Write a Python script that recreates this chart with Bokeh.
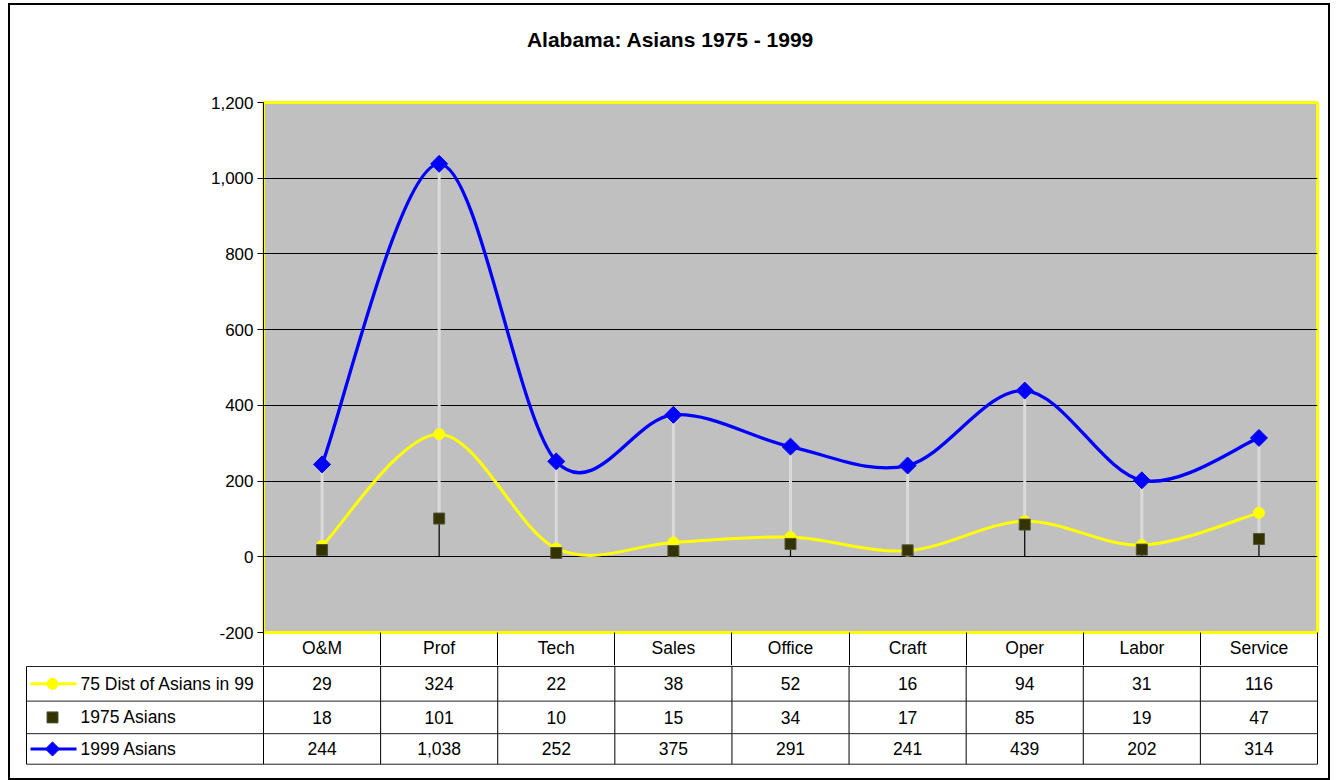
import numpy as np
from bokeh.plotting import figure
from bokeh.models import FixedTicker, NumeralTickFormatter, Range1d, LinearAxis
from bokeh.embed import file_html
from bokeh.resources import INLINE
from bokeh.core.properties import value

# ---------------- data ----------------
cats = ["O&M", "Prof", "Tech", "Sales", "Office", "Craft", "Oper", "Labor", "Service"]
dist75 = [29, 324, 22, 38, 52, 16, 94, 31, 116]
asians1975 = [18, 101, 10, 15, 34, 17, 85, 19, 47]
asians1999 = [244, 1038, 252, 375, 291, 241, 439, 202, 314]
series_names = ["75 Dist of Asians in 99", "1975 Asians", "1999 Asians"]
y_ticks = [-200, 0, 200, 400, 600, 800, 1000, 1200]
title_text = "Alabama: Asians 1975 - 1999"

FONT = "Liberation Sans"
YELLOW = "#FFFF00"
BLUE = "#0000FF"
OLIVE = "#333300"
BORDER = "2px solid black"

n = len(cats)
xs = np.arange(n) + 0.5


def smooth(ys):
    """Catmull-Rom style bezier segments (Excel 'smoothed line')."""
    P = np.column_stack([xs, np.asarray(ys, float)])
    Pe = np.vstack([P[0], P, P[-1]])
    c0 = P[:-1] + (Pe[2:-1] - Pe[0:-3]) / 6.0
    c1 = P[1:] - (Pe[3:] - Pe[1:-2]) / 6.0
    return dict(x0=P[:-1, 0], y0=P[:-1, 1], x1=P[1:, 0], y1=P[1:, 1],
                cx0=c0[:, 0], cy0=c0[:, 1], cx1=c1[:, 0], cy1=c1[:, 1])


def blank(fig):
    fig.grid.visible = False
    fig.outline_line_color = None
    fig.background_fill_color = "white"
    fig.border_fill_color = "white"


# ---------------- title strip ----------------
p0 = figure(width=1322, height=67, x_range=Range1d(10, 1332), y_range=Range1d(70, 5),
            output_backend="svg", toolbar_location=None, x_axis_location=None,
            y_axis_location=None, min_border=0,
            styles={"border-left": BORDER, "border-right": BORDER, "border-top": BORDER,
                    "margin-left": "8px", "margin-top": "3px"})
blank(p0)
p0.text(x=[670], y=[38], text=[title_text], text_font=value(FONT), text_font_size="21px",
        text_font_style="bold", text_color="black", text_align="center", text_baseline="middle")

# ---------------- chart ----------------
p1 = figure(width=1322, height=595, x_range=Range1d(0, n), y_range=Range1d(-200, 1200),
            output_backend="svg", toolbar_location=None, x_axis_location=None,
            min_border_left=253, min_border_right=15, min_border_top=32, min_border_bottom=33,
            styles={"border-left": BORDER, "border-right": BORDER, "margin-left": "8px"})
p1.background_fill_color = "#C0C0C0"
p1.border_fill_color = "white"
p1.outline_line_color = YELLOW
p1.outline_line_width = 3
p1.xgrid.visible = False
p1.ygrid.ticker = FixedTicker(ticks=y_ticks)
p1.ygrid.grid_line_color = "black"
p1.ygrid.grid_line_width = 1
ax = p1.yaxis[0]
ax.ticker = FixedTicker(ticks=y_ticks)
ax.formatter = NumeralTickFormatter(format="0,0")
ax.major_label_text_font = FONT
ax.major_label_text_font_size = "17px"
ax.major_label_text_color = "black"
ax.major_tick_out = 6
ax.major_tick_in = 0
ax.minor_tick_out = 0
ax.minor_tick_in = 0
ax.major_label_standoff = 4
ax.axis_line_color = "black"
ax.major_tick_line_color = "black"

# category axis = header row of the data table
xax = LinearAxis(ticker=FixedTicker(ticks=list(xs), minor_ticks=list(range(n + 1))),
                 major_label_overrides={float(x): c for x, c in zip(xs, cats)})
xax.major_label_text_font = FONT
xax.major_label_text_font_size = "17.5px"
xax.major_label_text_color = "black"
xax.major_tick_out = 0
xax.major_tick_in = 0
xax.minor_tick_in = 0
xax.minor_tick_out = 33
xax.minor_tick_line_color = "black"
xax.minor_tick_line_width = 1
xax.axis_line_color = None
xax.major_label_standoff = -28
p1.add_layout(xax, "below")

all_vals = np.vstack([dist75, asians1975, asians1999])
hi = all_vals.max(axis=0)
lo = all_vals.min(axis=0)
p1.segment(x0=xs, y0=lo, x1=xs, y1=np.zeros(n), line_color="black", line_width=1.2)
p1.segment(x0=xs, y0=lo, x1=xs, y1=hi, line_color="#DADADA", line_width=3)

p1.bezier(**smooth(dist75), line_color=YELLOW, line_width=3)
p1.scatter(xs, dist75, marker="circle", size=11, fill_color=YELLOW, line_color=YELLOW)
p1.scatter(xs, asians1975, marker="square", size=11, fill_color=OLIVE, line_color="#55553a")
p1.bezier(**smooth(asians1999), line_color=BLUE, line_width=3.3)
p1.scatter(xs, asians1999, marker="square", angle=np.pi / 4, size=12,
           fill_color=BLUE, line_color=BLUE)

# ---------------- data table rows ----------------
FL, FR = 263.0, 1317.0
cw = (FR - FL) / n
p2 = figure(width=1322, height=115, x_range=Range1d(10, 1332), y_range=Range1d(778, 665),
            output_backend="svg", toolbar_location=None, x_axis_location=None,
            y_axis_location=None, min_border=0,
            styles={"border-left": BORDER, "border-right": BORDER,
                    "border-bottom": BORDER, "margin-left": "8px"})
blank(p2)

cx = FL + (np.arange(n) + 0.5) * cw
bx = FL + np.arange(n + 1) * cw
rows_y = [683, 716, 747]
p2.segment(x0=bx, y0=[665] * (n + 1), x1=bx, y1=[762] * (n + 1), line_color="black", line_width=1)
p2.segment(x0=[26], y0=[666], x1=[26], y1=[762], line_color="black", line_width=1)
p2.segment(x0=[26] * 4, y0=[666, 700, 732, 762], x1=[FR] * 4, y1=[666, 700, 732, 762],
           line_color="#222222", line_width=1)

txt_kw = dict(text_font=value(FONT), text_font_size="17.5px", text_color="black",
              text_align="center", text_baseline="middle")
for vals, yy in zip([dist75, asians1975, asians1999], rows_y):
    p2.text(x=cx, y=[yy] * n, text=[f"{v:,}" for v in vals], **txt_kw)

lab_kw = dict(txt_kw)
lab_kw["text_align"] = "left"
p2.text(x=[80] * 3, y=rows_y, text=series_names, **lab_kw)

p2.line([30, 76], [rows_y[0]] * 2, line_color=YELLOW, line_width=3)
p2.scatter([52], [rows_y[0]], marker="circle", size=11, fill_color=YELLOW, line_color=YELLOW)
p2.scatter([52], [rows_y[1]], marker="square", size=11, fill_color=OLIVE, line_color="#55553a")
p2.line([30, 76], [rows_y[2]] * 2, line_color=BLUE, line_width=3)
p2.scatter([52], [rows_y[2]], marker="square", angle=np.pi / 4, size=10,
           fill_color=BLUE, line_color=BLUE)

open("out.html", "w").write(file_html([p0, p1, p2], INLINE))
